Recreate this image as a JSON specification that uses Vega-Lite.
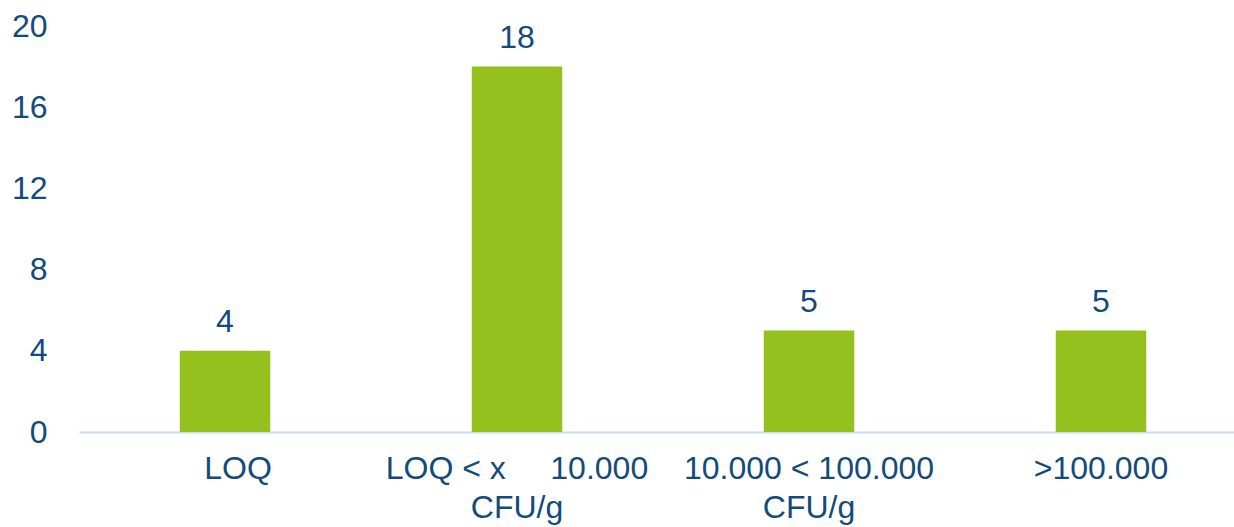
{
  "$schema": "https://vega.github.io/schema/vega-lite/v6.json",
  "autosize": {"type": "none"},
  "padding": {"left": 79, "top": 26, "right": 0, "bottom": 95},
  "width": 1168,
  "height": 406,
  "background": "white",
  "config": {
    "view": {"stroke": null},
    "font": "Liberation Sans"
  },
  "data": {
    "values": [
      {"category": "LOQ", "count": 4},
      {"category": "LOQ < x\u00a0\u00a0\u00a0\u00a0\u00a010.000|CFU/g", "count": 18},
      {"category": "10.000 < 100.000|CFU/g", "count": 5},
      {"category": ">100.000", "count": 5}
    ]
  },
  "encoding": {
    "x": {
      "field": "category",
      "type": "nominal",
      "sort": null,
      "scale": {"paddingInner": 0.69, "paddingOuter": 0.345},
      "axis": {
        "title": null,
        "labelAngle": 0,
        "labelExpr": "split(datum.label, '|')",
        "labelFontSize": 32,
        "labelColor": "#124B7C",
        "labelLineHeight": 39,
        "labelPadding": 21,
        "labelLimit": 400,
        "labelOffset": {"condition": {"test": "datum.value == 'LOQ'", "value": 13}, "value": 0},
        "ticks": false,
        "domainColor": "#C6DCF3",
        "domainWidth": 2
      }
    },
    "y": {
      "field": "count",
      "type": "quantitative",
      "scale": {"domain": [0, 20], "nice": false},
      "axis": {
        "title": null,
        "values": [0, 4, 8, 12, 16, 20],
        "grid": false,
        "domain": false,
        "ticks": false,
        "labelFontSize": 32,
        "labelColor": "#124B7C",
        "labelPadding": 32
      }
    }
  },
  "layer": [
    {"mark": {"type": "bar", "color": "#95C11F"}},
    {
      "mark": {
        "type": "text",
        "baseline": "alphabetic",
        "dy": -19,
        "fontSize": 32,
        "color": "#124B7C"
      },
      "encoding": {"text": {"field": "count", "type": "quantitative"}}
    }
  ]
}
